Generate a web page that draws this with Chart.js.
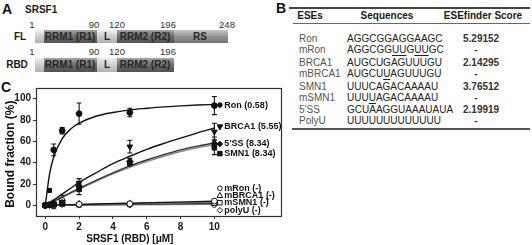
<!DOCTYPE html>
<html>
<head>
<meta charset="utf-8">
<script src="https://cdn.jsdelivr.net/npm/chart.js@4.4.1/dist/chart.umd.min.js"></script>
<style>
  body { margin: 0; width: 532px; height: 245px; background: #fff; position: relative; overflow: hidden;
         font-family: "Liberation Sans", Arial, sans-serif; color: #222; }
  .t { position: absolute; white-space: nowrap; line-height: 1; transform: translate(-50%, -50%); }
  .l { transform: translate(0, -50%); }
  .panel { font-weight: bold; font-size: 14px; color: #111; }
  .b { font-weight: bold; font-size: 10px; color: #1a1a1a; }
  .num { font-size: 9.5px; color: #333; }
  .seg { position: absolute; }
  .light { background: linear-gradient(#f0f0f0, #cdcdcd 50%, #b0b0b0); }
  .dark { background: linear-gradient(#a5a5a5, #707070 45%, #505050); }
  .rs { background: linear-gradient(#c8c8c8, #939393 50%, #747474); }
  .segtxt { font-size: 10px; font-weight: bold; color: #262626; }
  .rule { position: absolute; background: #444; }
  .tab { font-size: 10px; color: #222; }
  .name { color: #555; }
  u { text-underline-offset: 2px; }
  #wrap { position: absolute; left: 0; top: 80px; width: 300px; height: 165px; }
</style>
</head>
<body>
<!-- panel A -->
<div class="t panel" style="left:7px;top:9px">A</div>
<div class="t l b" style="left:25px;top:10px">SRSF1</div>

<div class="t num" style="left:32px;top:25px">1</div>
<div class="t num" style="left:94px;top:25px">90</div>
<div class="t num" style="left:117px;top:25px">120</div>
<div class="t num" style="left:168px;top:25px">196</div>
<div class="t num" style="left:227px;top:25px">248</div>
<div class="t b" style="left:20px;top:37px">FL</div>
<div class="seg light" style="left:35px;top:30px;width:9px;height:13px"></div>
<div class="seg dark" style="left:44px;top:30px;width:53px;height:13px"></div>
<div class="seg light" style="left:97px;top:30px;width:20px;height:13px"></div>
<div class="seg dark" style="left:117px;top:30px;width:57px;height:13px"></div>
<div class="seg rs" style="left:174px;top:30px;width:54px;height:13px"></div>
<div class="t segtxt" style="left:70px;top:37px">RRM1 (R1)</div>
<div class="t segtxt" style="left:107px;top:37px">L</div>
<div class="t segtxt" style="left:145px;top:37px">RRM2 (R2)</div>
<div class="t segtxt" style="left:200px;top:37px">RS</div>

<div class="t num" style="left:32px;top:52px">1</div>
<div class="t num" style="left:94px;top:52px">90</div>
<div class="t num" style="left:117px;top:52px">120</div>
<div class="t num" style="left:168px;top:52px">196</div>
<div class="t b" style="left:17px;top:65px">RBD</div>
<div class="seg light" style="left:35px;top:58px;width:9px;height:14px"></div>
<div class="seg dark" style="left:44px;top:58px;width:53px;height:14px"></div>
<div class="seg light" style="left:97px;top:58px;width:20px;height:14px"></div>
<div class="seg dark" style="left:117px;top:58px;width:57px;height:14px"></div>
<div class="t segtxt" style="left:70px;top:65px">RRM1 (R1)</div>
<div class="t segtxt" style="left:107px;top:65px">L</div>
<div class="t segtxt" style="left:145px;top:65px">RRM2 (R2)</div>

<!-- panel B -->
<div class="t panel" style="left:281px;top:8px">B</div>
<div class="rule" style="left:289px;top:7px;width:241px;height:2px"></div>
<div class="t b" style="left:310px;top:16px">ESEs</div>
<div class="t b" style="left:387px;top:16px">Sequences</div>
<div class="t b" style="left:483px;top:16px">ESEfinder Score</div>
<div class="rule" style="left:293px;top:23px;width:237px;height:1px;background:#666"></div>
<div id="rows"></div>
<div class="rule" style="left:292px;top:128px;width:238px;height:2px;background:#555"></div>

<!-- panel C -->
<div class="t panel" style="left:6px;top:87px">C</div>
<div id="wrap"><canvas id="chart"></canvas></div>

<script>
// table B
var eseNames = ['Ron', 'mRon', 'BRCA1', 'mBRCA1', 'SMN1', 'mSMN1', "5'SS", 'PolyU'];
var eseSeqs = ['AGGCGGAGGAAGC', 'AGGCGG<u>UU</u>G<u>UU</u>GC', 'AUGCUGAGUUUGU', 'AUGCU<u>U</u>AGUUUGU',
               'UUUCAGACAAAAU', 'UUU<u>U</u>AGACAAAAU', 'GCUAAGGUAAAUAUA', 'UUUUUUUUUUUUU'];
var eseScores = ['5.29152', '-', '2.14295', '-', '3.76512', '-', '2.19919', '-'];
var rowY = [39, 49.5, 63, 74, 87, 98, 109.5, 120.5];

var rows = document.getElementById('rows');
eseNames.forEach(function (n, i) {
    var html = '<div class="t l tab name" style="left:299px;top:' + rowY[i] + 'px">' + n + '</div>';
    html += '<div class="t l tab" style="left:347px;top:' + rowY[i] + 'px">' + eseSeqs[i] + '</div>';
    if (eseScores[i] === '-') {
        html += '<div class="t tab b" style="left:476px;top:' + rowY[i] + 'px;color:#333">-</div>';
    } else {
        html += '<div class="t l tab b" style="left:463px;top:' + rowY[i] + 'px;color:#333">' + eseScores[i] + '</div>';
    }
    rows.insertAdjacentHTML('beforeend', html);
});

// chart C data
var doses = [0, 0.25, 0.5, 1, 2, 5, 10];
var ronBound = [0, 14, 52, 70, 86, 87, 93.5];
var ronSd = [0, 0, 5.5, 3, 10, 4, 8.5];
var brca1Bound = [0, 1, 1.5, 3, 21, 55, 69];
var brca1Sd = [0, 0, 1, 2, 4, 6, 8];
var ss5Bound = [0, 0.5, 1, 2.5, 18, 41, 58];
var ss5Sd = [0, 0, 1, 1, 4, 3, 6];
var smn1Bound = [0, 0.5, 1, 2, 15, 39.5, 54.5];
var smn1Sd = [0, 0, 1, 1, 5, 3, 7];
var mRonBound = [0, 0.5, 0.8, 4.5, 1, 1.5, 4];
var mRonSd = [0, 0, 4, 5, 1, 1, 1];
var mBrca1Bound = [0, 0.3, 0.5, 2.5, 1.5, 2, 3.5];
var mBrca1Sd = [0, 0, 2, 3, 1, 1, 1];
var mSmn1Bound = [0, 0.3, 0.5, 1.5, 0.5, 1, 2];
var mSmn1Sd = [0, 0, 1, 2, 0.5, 0.5, 1];
var polyUBound = [0, 0.2, 0.3, 1, 0.5, 0.5, 0.5];
var polyUSd = [0, 0, 1, 1, 0.5, 0.5, 0.5];

var fitDoses = [0, 0.25, 0.5, 1, 1.5, 2, 3, 4, 5, 6, 7, 8, 9, 10];
var ronFit = [0, 29, 45.5, 62.5, 71.5, 77, 83.5, 87, 89.5, 91, 92.3, 93.2, 94, 94.6];
var brca1Fit = [0, 2.5, 5, 10.5, 16, 21.5, 30.5, 39, 46, 52.5, 58, 63, 68, 72.5];
var ss5Fit = [0, 2, 4, 8, 12, 16, 23.5, 30.5, 37, 42.5, 47.5, 52, 55.5, 58.5];
var smn1Fit = [0, 1.8, 3.7, 7.5, 11.2, 15, 22.5, 29.5, 35.5, 41, 46, 50.5, 54, 57];
var mutDoses = [0, 2, 5, 10];
var mRonFit = [0, 0.8, 2, 3.8];
var mBrca1Fit = [0, 0.6, 1.5, 3];
var mSmn1Fit = [0, 0.4, 1, 2];
var polyUFit = [0, 0.2, 0.5, 1];

var xTicks = [0, 2, 4, 6, 8, 10];
var yTicks = [0, 20, 40, 60, 80, 100];

var seriesNames = ['Ron (0.58)', 'BRCA1 (5.55)', "5'SS (8.34)", 'SMN1 (8.34)',
                   'mRon (-)', 'mBRCA1 (-)', 'mSMN1 (-)', 'polyU (-)'];

function pts(xs, ys) {
    return xs.map(function (x, i) { return {x: x, y: ys[i]}; });
}

// marker look per series: style, rotation, filled
var markers = [
    ['circle', 0, true], ['triangle', 180, true], ['rectRot', 0, true], ['rect', 0, true],
    ['circle', 0, false], ['triangle', 0, false], ['rect', 0, false], ['rectRot', 0, false]
];
var bounds = [ronBound, brca1Bound, ss5Bound, smn1Bound, mRonBound, mBrca1Bound, mSmn1Bound, polyUBound];
var sds = [ronSd, brca1Sd, ss5Sd, smn1Sd, mRonSd, mBrca1Sd, mSmn1Sd, polyUSd];

var datasets = [];
bounds.forEach(function (b, i) {
    var m = markers[i];
    var style = m[0];
    if (i === 0) {
        // the 0.25 point of Ron is drawn as a small square in the figure
        style = doses.map(function (d) { return d === 0.25 ? 'rect' : 'circle'; });
    }
    datasets.push({
        label: seriesNames[i],
        data: pts(doses, b),
        showLine: false,
        pointStyle: style,
        rotation: m[1],
        pointRadius: m[0] === 'circle' ? 2.9 : 3.3,
        pointBorderWidth: 1,
        pointBorderColor: '#111',
        pointBackgroundColor: m[2] ? '#111' : '#fff'
    });
});

var fits = [
    [fitDoses, ronFit, '#111'], [fitDoses, brca1Fit, '#111'], [fitDoses, ss5Fit, '#333'], [fitDoses, smn1Fit, '#888'],
    [mutDoses, mRonFit, '#111'], [mutDoses, mBrca1Fit, '#888'], [mutDoses, mSmn1Fit, '#333'], [mutDoses, polyUFit, '#888']
];
fits.forEach(function (f, i) {
    datasets.push({
        label: seriesNames[i] + ' fit',
        data: pts(f[0], f[1]),
        showLine: true,
        borderColor: f[2],
        borderWidth: 1.4,
        pointRadius: 0,
        cubicInterpolationMode: 'monotone'
    });
});

var labelLevels = [94, 73.5, 57.5, 48.5, 16, 9.3, 2.5, -4.7];

function drawMarker(ctx, m, x, y) {
    var r = m[0] === 'circle' ? 2.3 : 2.8;
    ctx.save();
    ctx.translate(x, y);
    ctx.rotate(m[1] * Math.PI / 180);
    ctx.beginPath();
    if (m[0] === 'circle') {
        ctx.arc(0, 0, r, 0, Math.PI * 2);
    } else if (m[0] === 'triangle') {
        ctx.moveTo(0, -r * 1.1);
        ctx.lineTo(r, r * 0.75);
        ctx.lineTo(-r, r * 0.75);
        ctx.closePath();
    } else if (m[0] === 'rect') {
        ctx.rect(-r * 0.8, -r * 0.8, r * 1.6, r * 1.6);
    } else {
        ctx.moveTo(0, -r); ctx.lineTo(r, 0); ctx.lineTo(0, r); ctx.lineTo(-r, 0);
        ctx.closePath();
    }
    ctx.lineWidth = 1;
    ctx.strokeStyle = '#111';
    ctx.fillStyle = m[2] ? '#111' : '#fff';
    ctx.fill();
    ctx.stroke();
    ctx.restore();
}

var errorBars = {
    id: 'errorBars',
    beforeDatasetsDraw: function (chart) {
        var ctx = chart.ctx, xs = chart.scales.x, ys = chart.scales.y;
        ctx.save();
        ctx.strokeStyle = '#111';
        ctx.lineWidth = 1.1;
        bounds.forEach(function (b, i) {
            b.forEach(function (v, j) {
                var e = sds[i][j];
                if (!e) return;
                var x = xs.getPixelForValue(doses[j]);
                var y1 = ys.getPixelForValue(v + e), y2 = ys.getPixelForValue(v - e);
                ctx.beginPath();
                ctx.moveTo(x, y1); ctx.lineTo(x, y2);
                ctx.moveTo(x - 2.5, y1); ctx.lineTo(x + 2.5, y1);
                ctx.moveTo(x - 2.5, y2); ctx.lineTo(x + 2.5, y2);
                ctx.stroke();
            });
        });
        ctx.restore();
    }
};

var decorations = {
    id: 'decorations',
    afterDraw: function (chart) {
        var ctx = chart.ctx, a = chart.chartArea, xs = chart.scales.x, ys = chart.scales.y;
        ctx.save();
        ctx.strokeStyle = '#333';
        ctx.lineWidth = 1.2;
        ctx.strokeRect(a.left + 0.5, a.top + 0.5, a.right - a.left - 1, a.bottom - a.top);

        // series labels right of the last dose
        var x10 = xs.getPixelForValue(10);
        ctx.font = 'bold 9px "Liberation Sans", Arial, sans-serif';
        ctx.fillStyle = '#111';
        ctx.textBaseline = 'middle';
        ctx.textAlign = 'left';
        seriesNames.forEach(function (name, i) {
            var y = ys.getPixelForValue(labelLevels[i]);
            drawMarker(ctx, markers[i], x10 + 5.5, y);
            ctx.fillText(name, x10 + 10, y);
        });

        // axis titles
        ctx.textAlign = 'center';
        ctx.font = 'bold 10px "Liberation Sans", Arial, sans-serif';
        ctx.fillText('SRSF1 (RBD) [\u03bcM]', xs.getPixelForValue(5), chart.height - 6);
        ctx.translate(11, ys.getPixelForValue(48));
        ctx.rotate(-Math.PI / 2);
        ctx.font = 'bold 12px "Liberation Sans", Arial, sans-serif';
        ctx.fillText('Bound fraction (%)', 0, 0);
        ctx.restore();
    }
};

var tickFont = {family: '"Liberation Sans", Arial, sans-serif', size: 10, weight: 'bold'};

new Chart(document.getElementById('chart').getContext('2d'), {
    type: 'scatter',
    data: {datasets: datasets},
    options: {
        responsive: true,
        maintainAspectRatio: false,
        devicePixelRatio: 1,
        animation: false,
        layout: {autoPadding: false, padding: {top: 7, right: 18, left: 0, bottom: 0}},
        plugins: {legend: {display: false}, tooltip: {enabled: false}},
        scales: {
            x: {
                type: 'linear', min: -0.55, max: 14,
                afterBuildTicks: function (s) { s.ticks = xTicks.map(function (v) { return {value: v}; }); },
                afterFit: function (s) { s.height = 29; },
                border: {display: false},
                grid: {drawOnChartArea: false, drawTicks: true, tickLength: 3, color: '#333'},
                ticks: {font: tickFont, color: '#1a1a1a', padding: 2, maxRotation: 0}
            },
            y: {
                type: 'linear', min: -10, max: 110,
                afterBuildTicks: function (s) { s.ticks = yTicks.map(function (v) { return {value: v}; }); },
                afterFit: function (s) { s.width = 36; },
                border: {display: false},
                grid: {drawOnChartArea: false, drawTicks: true, tickLength: 3, color: '#333'},
                ticks: {font: tickFont, color: '#1a1a1a', padding: 2}
            }
        }
    },
    plugins: [errorBars, decorations]
});
</script>
</body>
</html>
